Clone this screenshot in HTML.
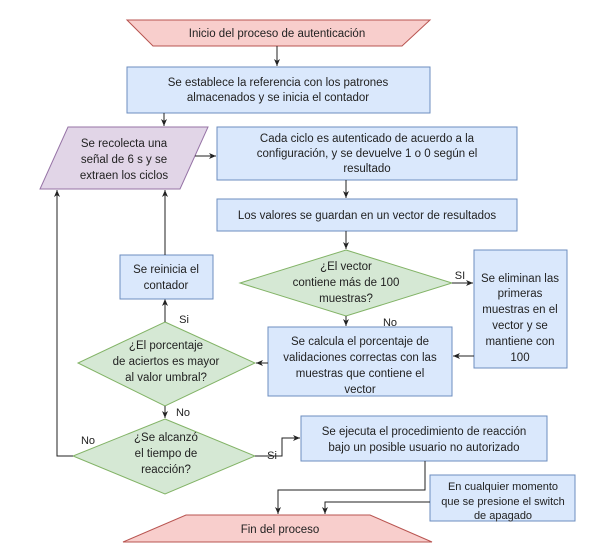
<!DOCTYPE html>
<html><head><meta charset="utf-8"><style>
html,body{margin:0;padding:0;background:#fff;}
svg{display:block}
text{font-family:"Liberation Sans",sans-serif;font-size:11.5px;fill:#222;text-anchor:middle}
.b{fill:#dae8fc;stroke:#6c8ebf;stroke-width:1}
.r{fill:#f8cecc;stroke:#b85450;stroke-width:1}
.g{fill:#d5e8d4;stroke:#82b366;stroke-width:1}
.p{fill:#e1d5e7;stroke:#9673a6;stroke-width:1}
.l{fill:none;stroke:#222;stroke-width:1}
.s{font-size:11px}
.t{font-size:11px}
</style></head><body>
<svg width="607" height="560" viewBox="0 0 607 560" xmlns="http://www.w3.org/2000/svg">
<defs><marker id="a" markerWidth="8" markerHeight="8" refX="7" refY="4" orient="auto" markerUnits="userSpaceOnUse"><path d="M0,1 L7,4 L0,7 L2,4 z" fill="#222"/></marker></defs>

<polygon class="r" points="127,20 430,20 402,46 153,46"/>
<text x="277" y="37">Inicio del proceso de autenticación</text>
<line class="l" x1="277" y1="46" x2="277" y2="66" marker-end="url(#a)"/>

<rect class="b" x="127" y="67" width="303" height="46"/>
<text x="278" y="86">Se establece la referencia con los patrones</text>
<text x="278" y="101">almacenados y se inicia el contador</text>
<line class="l" x1="164" y1="113" x2="164" y2="126" marker-end="url(#a)"/>

<polygon class="p" points="68,127 208,127 180,189 40,189"/>
<text x="124" y="147">Se recolecta una</text>
<text x="124" y="163">señal de 6 s y se</text>
<text x="124" y="179">extraen los ciclos</text>
<line class="l" x1="195" y1="156" x2="216" y2="156" marker-end="url(#a)"/>

<rect class="b" x="217" y="127" width="300" height="53"/>
<text x="367" y="142">Cada ciclo es autenticado de acuerdo a la</text>
<text x="367" y="157">configuración, y se devuelve 1 o 0 según el</text>
<text x="367" y="172">resultado</text>
<line class="l" x1="346" y1="180" x2="346" y2="198" marker-end="url(#a)"/>

<rect class="b" x="217" y="199" width="300" height="32"/>
<text x="367" y="219">Los valores se guardan en un vector de resultados</text>
<line class="l" x1="346" y1="231" x2="346" y2="249" marker-end="url(#a)"/>

<polygon class="g" points="346,250 452,283 346,316 240,283"/>
<text x="346" y="270">¿El vector</text>
<text x="346" y="286">contiene más de 100</text>
<text x="346" y="302">muestras?</text>
<text class="s" x="460" y="279">SI</text>
<line class="l" x1="452" y1="283" x2="473" y2="283" marker-end="url(#a)"/>

<rect class="b" x="474" y="250" width="93" height="118"/>
<text x="520" y="282">Se eliminan las</text>
<text x="520" y="297">primeras</text>
<text x="520" y="313">muestras en el</text>
<text x="520" y="329">vector y se</text>
<text x="520" y="345">mantiene con</text>
<text x="520" y="361">100</text>

<text class="s" x="390" y="326">No</text>
<line class="l" x1="346" y1="316" x2="346" y2="326" marker-end="url(#a)"/>

<rect class="b" x="268" y="327" width="184" height="69"/>
<text x="360" y="345">Se calcula el porcentaje de</text>
<text x="360" y="361">validaciones correctas con las</text>
<text x="360" y="377">muestras que contiene el</text>
<text x="360" y="393">vector</text>
<line class="l" x1="474" y1="356" x2="453" y2="356" marker-end="url(#a)"/>
<line class="l" x1="268" y1="363" x2="256" y2="363" marker-end="url(#a)"/>

<polygon class="g" points="165,322 255,363 165,406 78,363"/>
<text x="166" y="349">¿El porcentaje</text>
<text x="166" y="365">de aciertos es mayor</text>
<text x="166" y="381">al valor umbral?</text>
<text class="s" x="184" y="323">Si</text>
<line class="l" x1="165" y1="322" x2="165" y2="299" marker-end="url(#a)"/>

<rect class="b" x="120" y="255" width="93" height="44"/>
<text x="166" y="273">Se reinicia el</text>
<text x="166" y="289">contador</text>
<line class="l" x1="165" y1="255" x2="165" y2="190" marker-end="url(#a)"/>

<text class="s" x="183" y="416">No</text>
<line class="l" x1="165" y1="406" x2="165" y2="418" marker-end="url(#a)"/>

<polygon class="g" points="165,419 255,456 165,494 73,456"/>
<text x="166" y="441">¿Se alcanzó</text>
<text x="166" y="457">el tiempo de</text>
<text x="166" y="473">reacción?</text>
<text class="s" x="88" y="444">No</text>
<polyline class="l" points="73,456 57,456 57,190" marker-end="url(#a)"/>
<text class="s" x="272" y="459">Si</text>
<polyline class="l" points="255,456 282,456 282,438 300,438" marker-end="url(#a)"/>

<rect class="b" x="301" y="416" width="246" height="45"/>
<text x="424" y="435">Se ejecuta el procedimiento de reacción</text>
<text x="424" y="451">bajo un posible usuario no autorizado</text>
<polyline class="l" points="425,461 425,490 278,490 278,514" marker-end="url(#a)"/>

<rect class="b" x="430" y="475" width="145" height="46"/>
<text class="t" x="503" y="490">En cualquier momento</text>
<text class="t" x="503" y="505">que se presione el switch</text>
<text class="t" x="503" y="519">de apagado</text>
<polyline class="l" points="430,502 325,502 325,514" marker-end="url(#a)"/>

<polygon class="r" points="186,515 370,515 432,542 123,542"/>
<text x="280" y="533">Fin del proceso</text>
</svg>
</body></html>
